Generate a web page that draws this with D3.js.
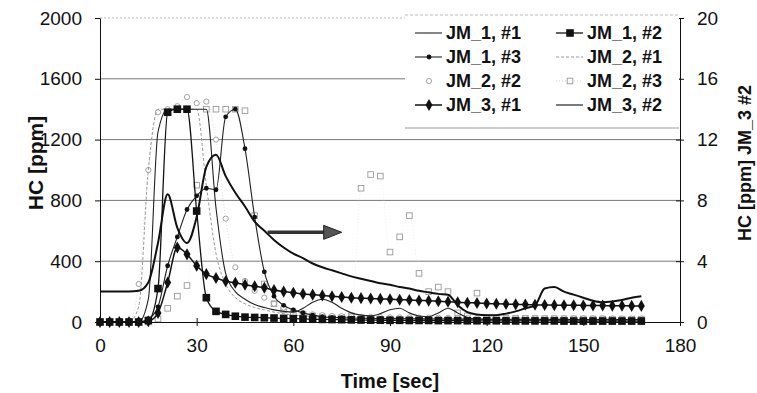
<!DOCTYPE html>
<html>
<head>
<meta charset="utf-8">
<script src="https://cdn.jsdelivr.net/npm/d3@7"></script>
<style>
  body { margin: 0; background: #fff; }
  svg text { font-family: "Liberation Sans", Arial, sans-serif; fill: #111; }
</style>
</head>
<body>
<svg id="chart" width="757" height="393"></svg>
<script>
// time axis (sec)
const times = [0,3,6,9,12,15,18,21,24,27,30,33,36,39,42,45,48,51,54,57,
  60,63,66,69,72,75,78,81,84,87,90,93,96,99,102,105,108,111,114,117,
  120,123,126,129,132,135,138,141,144,147,150,153,156,159,162,165,168];

// HC [ppm], left axis
const jm1_1 = [0,0,0,0,0,150,1250,1400,1400,1400,1400,1400,750,320,200,150,115,95,80,70,
  65,90,130,150,130,90,60,45,40,55,80,90,60,40,35,60,90,60,30,20,
  18,16,15,15,14,14,15,16,15,14,14,15,15,14,14,15,15];
const jm1_2 = [0,0,0,0,0,10,220,1380,1400,1400,730,160,70,50,38,32,30,28,26,24,
  22,20,18,17,16,15,14,13,12,12,11,11,10,10,10,9,9,9,8,8,
  8,8,7,7,7,7,7,7,6,6,6,6,6,6,6,6,6];
const jm1_3 = [0,0,0,0,0,20,100,370,560,740,830,880,870,1350,1400,1140,690,330,170,110,
  80,60,45,35,30,28,26,25,24,23,22,22,21,21,20,20,20,19,19,19,
  18,18,18,18,17,17,17,17,17,16,16,16,16,16,16,16,16];
const jm2_1 = [0,0,0,0,100,1000,1400,1400,1400,1400,1400,900,450,250,160,120,95,80,65,55,
  45,40,36,33,30,28,26,25,24,23,22,21,20,20,19,19,18,18,18,17,
  17,17,16,16,16,16,15,15,15,15,15,14,14,14,14,14,14];
const jm2_2 = [0,0,0,0,250,1000,1380,1400,1420,1480,1440,1450,1200,680,360,270,205,160,120,95,
  75,60,50,45,40,38,36,34,33,32,31,30,30,29,29,28,28,27,27,26,
  26,26,25,25,25,24,24,24,24,23,23,23,23,22,22,22,22];
const jm2_3 = [0,0,0,0,0,0,20,90,170,240,900,1400,1400,1400,1400,1390,700,250,120,80,
  60,50,40,35,30,30,40,880,970,960,460,560,700,320,200,230,200,60,40,190,
  30,28,26,25,24,23,22,22,21,21,20,20,20,19,19,19,19];
const jm3_1 = [0,0,0,0,0,5,60,260,490,445,370,315,290,268,258,245,235,225,210,200,
  192,185,180,175,170,165,160,157,155,152,150,147,145,142,140,137,133,130,127,125,
  122,120,118,116,115,113,112,111,110,110,109,108,108,107,107,106,106];
// HC [ppm] JM_3 #2, right axis
const jm3_2 = [2.0,2.0,2.0,2.0,2.05,2.6,5.2,8.4,6.2,5.2,6.9,10.2,11.0,9.6,8.5,7.6,6.6,6.0,5.4,4.9,
  4.5,4.2,3.85,3.6,3.4,3.2,3.0,2.85,2.7,2.55,2.45,2.3,2.2,2.05,1.95,1.85,1.8,1.1,0.65,0.5,
  0.45,0.45,0.55,0.7,0.9,1.1,2.2,2.3,2.0,1.8,1.6,1.4,1.3,1.35,1.45,1.6,1.7];

const xTicks = [0,30,60,90,120,150,180];
const yTicks = [0,400,800,1200,1600,2000];
const yRTicks = [0,4,8,12,16,20];

// annotation arrow (time, ppm)
const arrowFrom = [52, 590];
const arrowTo = [75, 590];

const svg = d3.select('#chart');
const margin = { top: 18, right: 77, bottom: 71, left: 100 };
const width = 757 - margin.left - margin.right;
const height = 393 - margin.top - margin.bottom;

const x = d3.scaleLinear().domain([0, 180]).range([margin.left, margin.left + width]);
const y = d3.scaleLinear().domain([0, 2000]).range([margin.top + height, margin.top]);
const yR = d3.scaleLinear().domain([0, 20]).range([margin.top + height, margin.top]);

// grid
svg.append('g').selectAll('line')
  .data(yTicks.filter(d => d > 0 && d < 2000))
  .enter().append('line')
  .attr('x1', x(0)).attr('x2', x(180))
  .attr('y1', d => y(d)).attr('y2', d => y(d))
  .attr('stroke', '#777').attr('stroke-width', 1);
svg.append('line')
  .attr('x1', x(0)).attr('x2', x(180)).attr('y1', y(2000)).attr('y2', y(2000))
  .attr('stroke', '#bbb').attr('stroke-dasharray', '2,2');

const series = [
  { name: 'JM_2, #3', data: jm2_3, axis: y, stroke: '#e6e6e6', width: 0.7, dash: '1,2', marker: 'osquare' },
  { name: 'JM_2, #2', data: jm2_2, axis: y, stroke: '#d6d6d6', width: 0.8, dash: '1,2', marker: 'ocircle' },
  { name: 'JM_2, #1', data: jm2_1, axis: y, stroke: '#999', width: 1, dash: '3,2', marker: null },
  { name: 'JM_1, #1', data: jm1_1, axis: y, stroke: '#222', width: 1.1, dash: null, marker: null },
  { name: 'JM_1, #3', data: jm1_3, axis: y, stroke: '#222', width: 1.1, dash: null, marker: 'dot' },
  { name: 'JM_3, #1', data: jm3_1, axis: y, stroke: '#111', width: 1.5, dash: null, marker: 'diamond' },
  { name: 'JM_1, #2', data: jm1_2, axis: y, stroke: '#111', width: 1.3, dash: null, marker: 'square' },
  { name: 'JM_3, #2', data: jm3_2, axis: yR, stroke: '#111', width: 2, dash: null, marker: null }
];

function drawMarker(g, type, cx, cy) {
  if (type === 'square') {
    g.append('rect').attr('x', cx - 3.8).attr('y', cy - 3.8).attr('width', 7.6).attr('height', 7.6).attr('fill', '#111');
  } else if (type === 'diamond') {
    g.append('path').attr('d', d3.symbol(d3.symbolDiamond, 42)()).attr('transform', `translate(${cx},${cy})`).attr('fill', '#111');
  } else if (type === 'dot') {
    g.append('circle').attr('cx', cx).attr('cy', cy).attr('r', 2.4).attr('fill', '#111');
  } else if (type === 'ocircle') {
    g.append('circle').attr('cx', cx).attr('cy', cy).attr('r', 2.6).attr('fill', '#fff').attr('stroke', '#999').attr('stroke-width', 0.9);
  } else if (type === 'osquare') {
    g.append('rect').attr('x', cx - 2.8).attr('y', cy - 2.8).attr('width', 5.6).attr('height', 5.6).attr('fill', '#fff').attr('stroke', '#999').attr('stroke-width', 0.9);
  }
}

const plot = svg.append('g');
series.forEach(s => {
  const line = d3.line()
    .x((d, i) => x(times[i]))
    .y(d => s.axis(d))
    .curve(d3.curveMonotoneX);
  plot.append('path')
    .attr('d', line(s.data))
    .attr('fill', 'none')
    .attr('stroke', s.stroke)
    .attr('stroke-width', s.width)
    .attr('stroke-dasharray', s.dash);
  if (s.marker) {
    const mg = plot.append('g');
    s.data.forEach((d, i) => drawMarker(mg, s.marker, x(times[i]), s.axis(d)));
  }
});

// arrow pointing at the right axis
const ax1 = x(arrowFrom[0]), ay = y(arrowFrom[1]), ax2 = x(arrowTo[0]);
svg.append('line')
  .attr('x1', ax1).attr('x2', ax2 - 16).attr('y1', ay).attr('y2', ay)
  .attr('stroke', '#333').attr('stroke-width', 3.5);
svg.append('path')
  .attr('d', `M${ax2 - 18},${ay - 7}L${ax2},${ay}L${ax2 - 18},${ay + 7}Z`)
  .attr('fill', '#555').attr('stroke', '#222').attr('stroke-width', 1);

// axes
const xAxis = svg.append('g').attr('transform', `translate(0,${y(0)})`)
  .call(d3.axisBottom(x).tickValues(xTicks).tickFormat(d3.format('d')).tickSizeInner(4).tickSizeOuter(0).tickPadding(13));
xAxis.selectAll('.tick line').attr('y1', -4);
const yAxis = svg.append('g').attr('transform', `translate(${x(0)},0)`)
  .call(d3.axisLeft(y).tickValues(yTicks).tickFormat(d3.format('d')).tickSizeInner(5).tickSizeOuter(0).tickPadding(13));
const yRAxis = svg.append('g').attr('transform', `translate(${x(180)},0)`)
  .call(d3.axisRight(yR).tickValues(yRTicks).tickFormat(d3.format('d')).tickSizeInner(4).tickSizeOuter(0).tickPadding(13));
yRAxis.selectAll('.tick line').attr('x1', -4);

[xAxis, yAxis, yRAxis].forEach(a => {
  a.select('.domain').attr('stroke', '#111');
  a.selectAll('.tick line').attr('stroke', '#111');
  a.selectAll('.tick text').attr('font-size', 19).attr('fill', '#111')
    .style('font-family', '"Liberation Sans", Arial, sans-serif');
});

// titles
svg.append('text').attr('x', x(90)).attr('y', 388).attr('text-anchor', 'middle')
  .attr('font-size', 20).attr('font-weight', 'bold').text('Time [sec]');
svg.append('text').attr('transform', 'translate(43,163) rotate(-90)').attr('text-anchor', 'middle')
  .attr('font-size', 21).attr('font-weight', 'bold').text('HC [ppm]');
svg.append('text').attr('transform', 'translate(751,163) rotate(-90)').attr('text-anchor', 'middle')
  .attr('font-size', 18).attr('font-weight', 'bold').text('HC [ppm]  JM_3 #2');

// legend
const legendOrder = ['JM_1, #1', 'JM_1, #2', 'JM_1, #3', 'JM_2, #1', 'JM_2, #2', 'JM_2, #3', 'JM_3, #1', 'JM_3, #2'];
const lg = svg.append('g');
lg.append('rect').attr('x', 405).attr('y', 15).attr('width', 274).attr('height', 113).attr('fill', '#fff');
lg.append('line').attr('x1', 405).attr('x2', 679).attr('y1', 15).attr('y2', 15)
  .attr('stroke', '#bbb').attr('stroke-dasharray', '3,2');
lg.append('line').attr('x1', 405).attr('x2', 679).attr('y1', 128).attr('y2', 128)
  .attr('stroke', '#999');
legendOrder.forEach((name, i) => {
  const s = series.find(d => d.name === name);
  const col = i % 2, row = Math.floor(i / 2);
  const lx = col === 0 ? 415 : 556;
  const ly = 33 + row * 24;
  const g = lg.append('g');
  if (s.marker !== 'ocircle') {
    g.append('line').attr('x1', lx).attr('x2', lx + 27).attr('y1', ly).attr('y2', ly)
      .attr('stroke', s.marker === 'osquare' ? '#bbb' : s.stroke)
      .attr('stroke-width', s.name === 'JM_3, #2' ? 1.1 : s.width)
      .attr('stroke-dasharray', s.dash);
  }
  if (s.marker) drawMarker(g, s.marker, lx + 14, ly);
  g.append('text').attr('x', lx + 31).attr('y', ly + 6)
    .attr('font-size', 18).attr('font-weight', 'bold').text(name);
});
</script>
</body>
</html>
